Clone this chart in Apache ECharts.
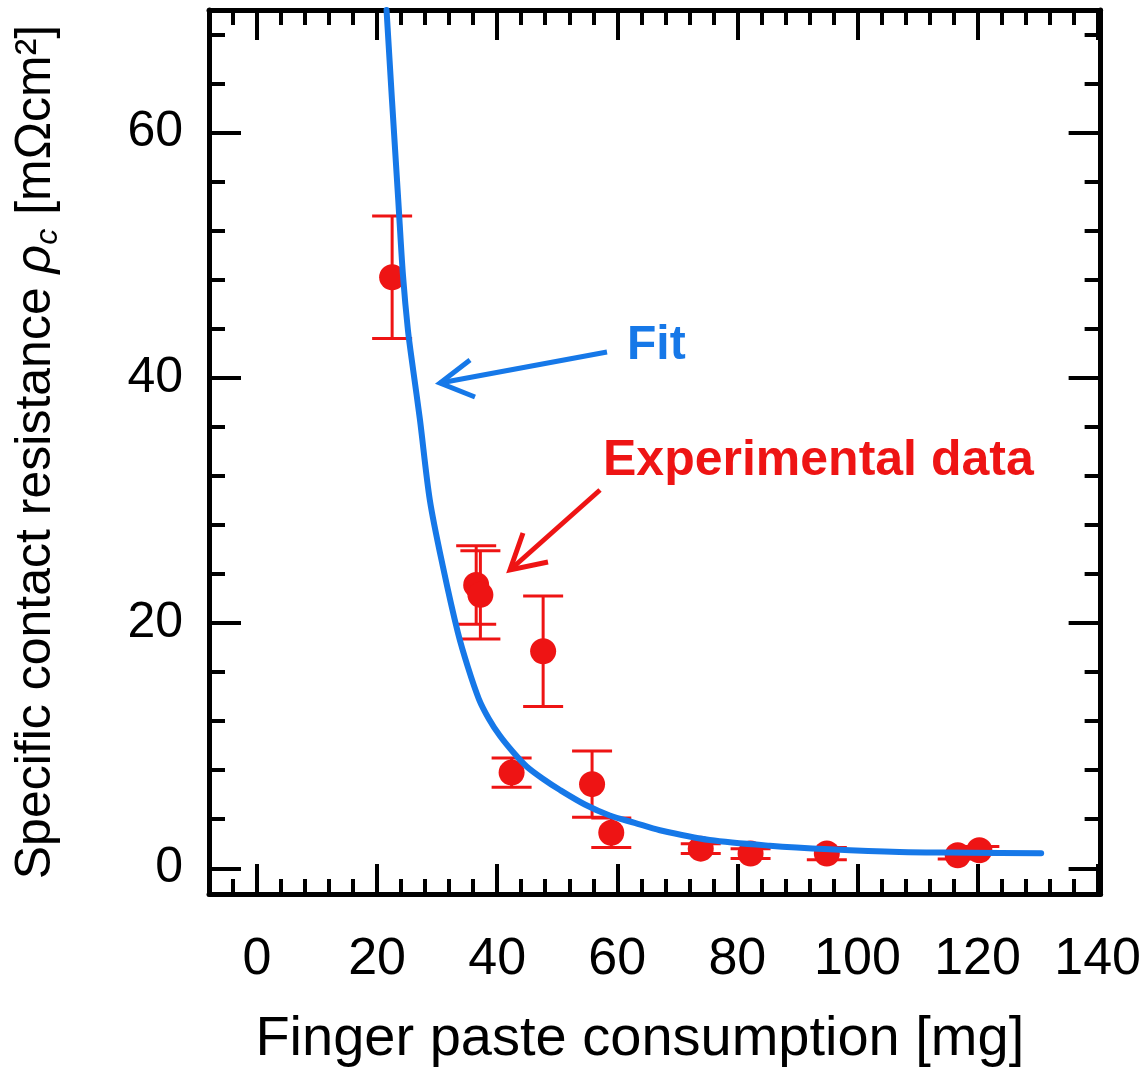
<!DOCTYPE html>
<html>
<head>
<meta charset="utf-8">
<script src="https://cdn.jsdelivr.net/npm/echarts@6/dist/echarts.min.js"></script>
<style>html,body{margin:0;padding:0;background:#fff}#c{width:1144px;height:1078px}</style>
</head>
<body>
<div id="c"></div>
<script>
// ---- data ----
const expX   = [22.5, 36.5, 37.2, 47.65, 42.4, 55.8, 59.0, 73.9, 82.2, 94.9, 116.7, 120.3];
const expY   = [48.2, 23.1, 22.3, 17.7, 7.8, 6.86, 2.9, 1.6, 1.2, 1.2, 1.06, 1.47];
const expErr = [5.0, 3.2, 3.6, 4.5, 1.2, 2.7, 1.2, 0.4, 0.4, 0.5, 0.3, 0.3];
const fitX = [21.57, 22.47, 23.52, 24.3, 25.13, 26.0, 27.13, 28.79, 30.96, 33.46, 35.12, 36.95, 38.6, 40.45, 42.6, 44.9, 47.6, 50.4, 54.6, 58.75, 62.9, 67.1, 75.4, 85.4, 95.4, 107.0, 118.7, 130.6];
const fitY = [70.0, 62.7, 54.5, 48.4, 43.9, 40.65, 36.6, 30.0, 24.6, 19.2, 16.4, 13.8, 12.2, 10.8, 9.5, 8.3, 7.3, 6.4, 5.2, 4.3, 3.7, 3.1, 2.3, 1.84, 1.55, 1.33, 1.27, 1.22];
const xMajor = [0, 20, 40, 60, 80, 100, 120, 140];
const xMinor = [-4, 4, 8, 12, 16, 24, 28, 32, 36, 44, 48, 52, 56, 64, 68, 72, 76, 84, 88, 92, 96, 104, 108, 112, 116, 124, 128, 132, 136];
const yMajor = [0, 20, 40, 60];
const yMinor = [4, 8, 12, 16, 24, 28, 32, 36, 44, 48, 52, 56, 64, 68];

const RED = '#EE1414';
const BLUE = '#1678E8';
const FONT = 'Liberation Sans, Arial, sans-serif';

const chart = echarts.init(document.getElementById('c'), null, {renderer: 'canvas'});

function xAx(pos, vals, len, line, label) {
  return {
    type: 'value', position: pos, min: -8, max: 140.5,
    axisLine: {show: line, onZero: false, lineStyle: {color: '#000', width: 5}},
    axisTick: {show: true, inside: true, length: len, customValues: vals, lineStyle: {color: '#000', width: 4}},
    axisLabel: label ? {show: true, customValues: vals, fontSize: 52, margin: 40, color: '#000', fontFamily: FONT} : {show: false},
    splitLine: {show: false}
  };
}
function yAx(pos, vals, len, line, label) {
  return {
    type: 'value', position: pos, min: -2.1, max: 70,
    axisLine: {show: line, onZero: false, lineStyle: {color: '#000', width: 5}},
    axisTick: {show: true, inside: true, length: len, customValues: vals, lineStyle: {color: '#000', width: 4}},
    axisLabel: label ? {show: true, customValues: vals, fontSize: 50, margin: 26, color: '#000', fontFamily: FONT} : {show: false},
    splitLine: {show: false}
  };
}

const xAxes = [xAx('bottom', xMajor, 30, true, true), xAx('bottom', xMinor, 15, false, false),
               xAx('top', xMajor, 30, true, false), xAx('top', xMinor, 15, false, false)];
xAxes[0].name = 'Finger paste consumption [mg]';
xAxes[0].nameLocation = 'middle';
xAxes[0].nameGap = 118;
xAxes[0].nameTextStyle = {fontSize: 56, color: '#000', fontFamily: FONT, padding: [0, 30, 0, 0]};

const yAxes = [yAx('left', yMajor, 32, true, true), yAx('left', yMinor, 16, false, false),
               yAx('right', yMajor, 32, true, false), yAx('right', yMinor, 16, false, false)];
yAxes[0].name = '{a|Specific contact resistance }{i|ρ}{s|c}{a| [mΩcm²]}';
yAxes[0].nameLocation = 'middle';
yAxes[0].nameGap = 145;
yAxes[0].nameRotate = 90;
yAxes[0].nameTextStyle = {
  color: '#000', fontFamily: FONT,
  rich: {
    a: {fontSize: 50, fontFamily: FONT, color: '#000'},
    i: {fontSize: 50, fontFamily: FONT, fontStyle: 'italic', color: '#000'},
    s: {fontSize: 32, fontFamily: FONT, fontStyle: 'italic', color: '#000', padding: [24, 0, 0, 0]}
  }
};

const errData = expX.map((x, i) => [x, expY[i], expErr[i]]);
const ptData = expX.map((x, i) => [x, expY[i]]);
const fitData = fitX.map((x, i) => [x, fitY[i]]);

chart.setOption({
  animation: false,
  backgroundColor: '#fff',
  grid: {left: 209, right: 42, top: 10, bottom: 184, containLabel: false},
  xAxis: xAxes,
  yAxis: yAxes,
  series: [
    {
      type: 'custom', xAxisIndex: 0, yAxisIndex: 0, data: errData, z: 3,
      renderItem: function (params, api) {
        const x = api.value(0), y = api.value(1), e = api.value(2);
        const t = api.coord([x, y + e]);
        const b = api.coord([x, y - e]);
        const hw = 20;
        const st = {stroke: RED, lineWidth: 3};
        return {type: 'group', children: [
          {type: 'line', shape: {x1: t[0], y1: t[1], x2: b[0], y2: b[1]}, style: st},
          {type: 'line', shape: {x1: t[0] - hw, y1: t[1], x2: t[0] + hw, y2: t[1]}, style: st},
          {type: 'line', shape: {x1: b[0] - hw, y1: b[1], x2: b[0] + hw, y2: b[1]}, style: st}
        ]};
      }
    },
    {
      type: 'scatter', xAxisIndex: 0, yAxisIndex: 0, data: ptData, z: 4,
      symbol: 'circle', symbolSize: 26, itemStyle: {color: RED, opacity: 1}
    },
    {
      type: 'line', xAxisIndex: 0, yAxisIndex: 0, data: fitData, z: 5,
      smooth: 0.3, showSymbol: false, symbol: 'none', clip: true,
      lineStyle: {color: BLUE, width: 6, join: 'round', cap: 'round'}
    }
  ],
  graphic: [
    {type: 'text', left: 627, top: 322, style: {text: 'Fit', fill: BLUE, font: 'bold 48px ' + FONT}},
    {type: 'polyline', shape: {points: [[607, 352], [440, 383]]}, style: {stroke: BLUE, lineWidth: 5, fill: null}},
    {type: 'polyline', shape: {points: [[470, 360], [440, 383], [475, 397]]}, style: {stroke: BLUE, lineWidth: 5, fill: null}},
    {type: 'text', left: 603, top: 436, style: {text: 'Experimental data', fill: RED, font: 'bold 50px ' + FONT}},
    {type: 'polyline', shape: {points: [[600, 490], [510, 570]]}, style: {stroke: RED, lineWidth: 5, fill: null}},
    {type: 'polyline', shape: {points: [[523, 533], [510, 570], [548, 562]]}, style: {stroke: RED, lineWidth: 5, fill: null}}
  ]
});
</script>
</body>
</html>
